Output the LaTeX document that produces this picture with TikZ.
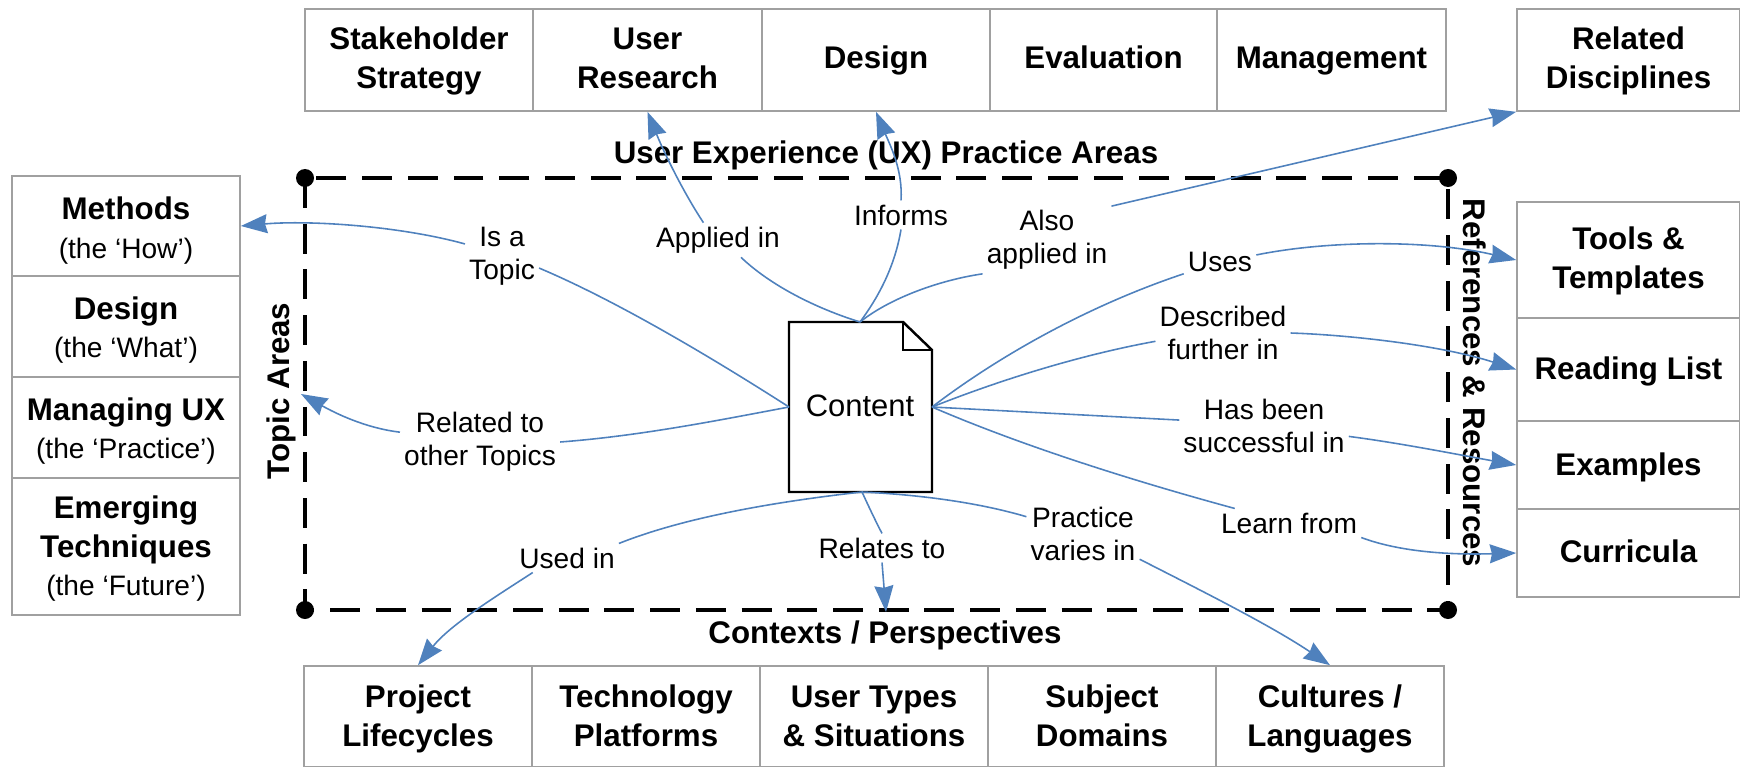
\documentclass[tikz,border=0pt]{standalone}
\usepackage{fontspec}
\setmainfont{Liberation Sans}
\usetikzlibrary{arrows.meta}
\definecolor{linkblue}{HTML}{4F81BD}
\definecolor{boxgrey}{HTML}{A0A0A0}
\newcommand{\bigfont}{\fontsize{8.9}{11}\selectfont\bfseries}
\newcommand{\smallfont}{\fontsize{8}{9.4}\selectfont\mdseries}
% first argument sets how far the text sits down its box
\newcommand{\boxtext}[2]{\rule{0pt}{#1pt}#2\rule[-3.3pt]{0pt}{0pt}}
\tikzset{
	areabox/.style={draw=boxgrey, line width=0.45pt, fill=white, inner sep=0pt, align=center, font=\bigfont},
	toplabel/.style={font=\bigfont, inner sep=0pt, align=center},
	linklabel/.style={font=\smallfont, inner sep=1pt, align=center},
	link/.style={draw=linkblue, line width=0.45pt},
	linkarrow/.style={link, -{Stealth[length=7.5pt,width=5.4pt,inset=0.6pt]}},
}
\begin{document}
\begin{tikzpicture}[x=0.01cm, y=-0.01cm]
	\useasboundingbox (0,0) rectangle (1740,767);

	% dashed frame
	\draw[line width=1pt, dash pattern=on 8.5pt off 4.5pt] (305,178) rectangle (1448,610);
	\fill (305,178) circle (9);
	\fill (1448,178) circle (9);
	\fill (305,610) circle (9);
	\fill (1448,610) circle (9);

	% practice areas
	\node[areabox, minimum width=2.28cm, minimum height=1.02cm] (strategy) at (419,60) {\boxtext{8.3}{Stakeholder\\Strategy}};
	\node[areabox, minimum width=2.29cm, minimum height=1.02cm] (research) at (647.5,60) {\boxtext{8.3}{User\\Research}};
	\node[areabox, minimum width=2.28cm, minimum height=1.02cm] (designarea) at (876,60) {\boxtext{8.3}{Design}};
	\node[areabox, minimum width=2.27cm, minimum height=1.02cm] (evaluation) at (1103.5,60) {\boxtext{8.3}{Evaluation}};
	\node[areabox, minimum width=2.29cm, minimum height=1.02cm] (management) at (1331.5,60) {\boxtext{8.3}{Management}};
	\node[areabox, minimum width=2.23cm, minimum height=1.02cm] (disciplines) at (1628.5,60) {\boxtext{8.3}{Related\\Disciplines}};

	% topic areas
	\node[areabox, minimum width=2.28cm, minimum height=1cm] (methods) at (126,226) {\boxtext{10.8}{Methods\\{\smallfont (the ‘How’)}}};
	\node[areabox, minimum width=2.28cm, minimum height=1.01cm] (design) at (126,326.5) {\boxtext{10.2}{Design\\{\smallfont (the ‘What’)}}};
	\node[areabox, minimum width=2.28cm, minimum height=1.01cm] (managing) at (126,427.5) {\boxtext{10.2}{Managing UX\\{\smallfont (the ‘Practice’)}}};
	\node[areabox, minimum width=2.28cm, minimum height=1.37cm] (emerging) at (126,546.5) {\boxtext{9.3}{Emerging\\Techniques\\{\smallfont (the ‘Future’)}}};

	% references and resources
	\node[areabox, minimum width=2.23cm, minimum height=1.16cm] (tools) at (1628.5,260) {\boxtext{8.3}{Tools \&\\Templates}};
	\node[areabox, minimum width=2.23cm, minimum height=1.03cm] (reading) at (1628.5,369.5) {\boxtext{9}{Reading List}};
	\node[areabox, minimum width=2.23cm, minimum height=0.88cm] (examples) at (1628.5,465) {\boxtext{9}{Examples}};
	\node[areabox, minimum width=2.23cm, minimum height=0.88cm] (curricula) at (1628.5,553) {\boxtext{8.7}{Curricula}};

	% contexts
	\node[areabox, minimum width=2.28cm, minimum height=1.01cm] (lifecycles) at (418,716.5) {\boxtext{9.3}{Project\\Lifecycles}};
	\node[areabox, minimum width=2.28cm, minimum height=1.01cm] (platforms) at (646,716.5) {\boxtext{9.3}{Technology\\Platforms}};
	\node[areabox, minimum width=2.28cm, minimum height=1.01cm] (usertypes) at (874,716.5) {\boxtext{9.3}{User Types\\\& Situations}};
	\node[areabox, minimum width=2.28cm, minimum height=1.01cm] (domains) at (1102,716.5) {\boxtext{9.3}{Subject\\Domains}};
	\node[areabox, minimum width=2.28cm, minimum height=1.01cm] (cultures) at (1330,716.5) {\boxtext{9.3}{Cultures /\\Languages}};

	% frame titles
	\node[toplabel] (practicetitle) at (886,155) {User Experience (UX) Practice Areas};
	\node[toplabel] (contexttitle) at (885,635) {Contexts / Perspectives};
	\node[toplabel, rotate=90] (topictitle) at (281,391) {Topic Areas};
	\node[toplabel, rotate=-90] (refstitle) at (1475,383) {References \& Resources};

	% content page
	\draw[line width=0.7pt, fill=white] (789,322) -- (903,322) -- (932,350) -- (932,492) -- (789,492) -- cycle;
	\draw[line width=0.7pt] (903,322) -- (903,350) -- (932,350);
	\node[font=\fontsize{8.8}{10}\selectfont, inner sep=0pt] (content) at (860,406) {Content};
	\coordinate (pagetop) at (860,322);
	\coordinate (pagebottom) at (862,492);
	\coordinate (pageleft) at (789,407);
	\coordinate (pageright) at (932,407);
	\coordinate (topicpoint) at (301,394);
	\coordinate (contextpoint) at (886,612);

	% link labels
	\node[linklabel] (isatopic) at (502,256) {Is a\\Topic};
	\node[linklabel] (appliedin) at (718,240) {Applied in};
	\node[linklabel] (informs) at (901,215) {Informs};
	\node[linklabel] (alsoapplied) at (1047,240) {Also\\applied in};
	\node[linklabel] (uses) at (1220,262) {Uses};
	\node[linklabel] (further) at (1223,333) {Described\\further in};
	\node[linklabel] (successful) at (1264,426) {Has been\\successful in};
	\node[linklabel] (learnfrom) at (1289,523) {Learn from};
	\node[linklabel] (relatedto) at (480,442) {Related to\\other Topics};
	\node[linklabel] (usedin) at (567,558) {Used in};
	\node[linklabel] (relatesto) at (882,548) {Relates to};
	\node[linklabel] (varies) at (1083,534) {Practice\\varies in};

	% links into the labels
	\draw[link] (pageleft) .. controls (700,350) and (610,298) .. (isatopic.-18);
	\draw[link] (pageleft) .. controls (720,420) and (640,436) .. (relatedto.east);
	\draw[link] (pagetop) .. controls (815,308) and (770,285) .. (appliedin.-37);
	\draw[link] (pagetop) .. controls (880,295) and (895,265) .. (informs.south);
	\draw[link] (pagetop) .. controls (890,298) and (940,280) .. (alsoapplied.south west);
	\draw[link] (pageright) .. controls (1000,355) and (1090,305) .. (uses.-162);
	\draw[link] (pageright) .. controls (1000,380) and (1080,355) .. (further.-173);
	\draw[link] (pageright) -- (successful.176);
	\draw[link] (pageright) .. controls (1020,445) and (1130,480) .. (learnfrom.165);
	\draw[link] (pagebottom) .. controls (790,500) and (690,515) .. (usedin.north east);
	\draw[link] (pagebottom) .. controls (868,505) and (875,520) .. (relatesto.north);
	\draw[link] (pagebottom) .. controls (905,494) and (970,500) .. (varies.163);

	% links out to the boxes
	\draw[linkarrow] (isatopic.162) .. controls (400,226) and (310,220) .. (methods.east);
	\draw[linkarrow] (relatedto.173) .. controls (365,428) and (335,413) .. (topicpoint);
	\draw[linkarrow] (appliedin.130) .. controls (685,195) and (665,155) .. (research.south);
	\draw[linkarrow] (informs.north) .. controls (903,170) and (890,145) .. (designarea.south);
	\draw[linkarrow] (alsoapplied.north east) -- (disciplines.south west);
	\draw[linkarrow] (uses.11) .. controls (1330,240) and (1430,240) .. (tools.west);
	\draw[linkarrow] (further.east) .. controls (1350,335) and (1440,345) .. (reading.west);
	\draw[linkarrow] (successful.-7) .. controls (1400,443) and (1460,455) .. (examples.west);
	\draw[linkarrow] (learnfrom.south east) .. controls (1400,552) and (1450,555) .. (curricula.west);
	\draw[linkarrow] (usedin.203) .. controls (495,597) and (450,625) .. (lifecycles.north);
	\draw[linkarrow] (relatesto.south) -- (contextpoint);
	\draw[linkarrow] (varies.-24) .. controls (1200,590) and (1270,625) .. (cultures.north);
\end{tikzpicture}
\end{document}
